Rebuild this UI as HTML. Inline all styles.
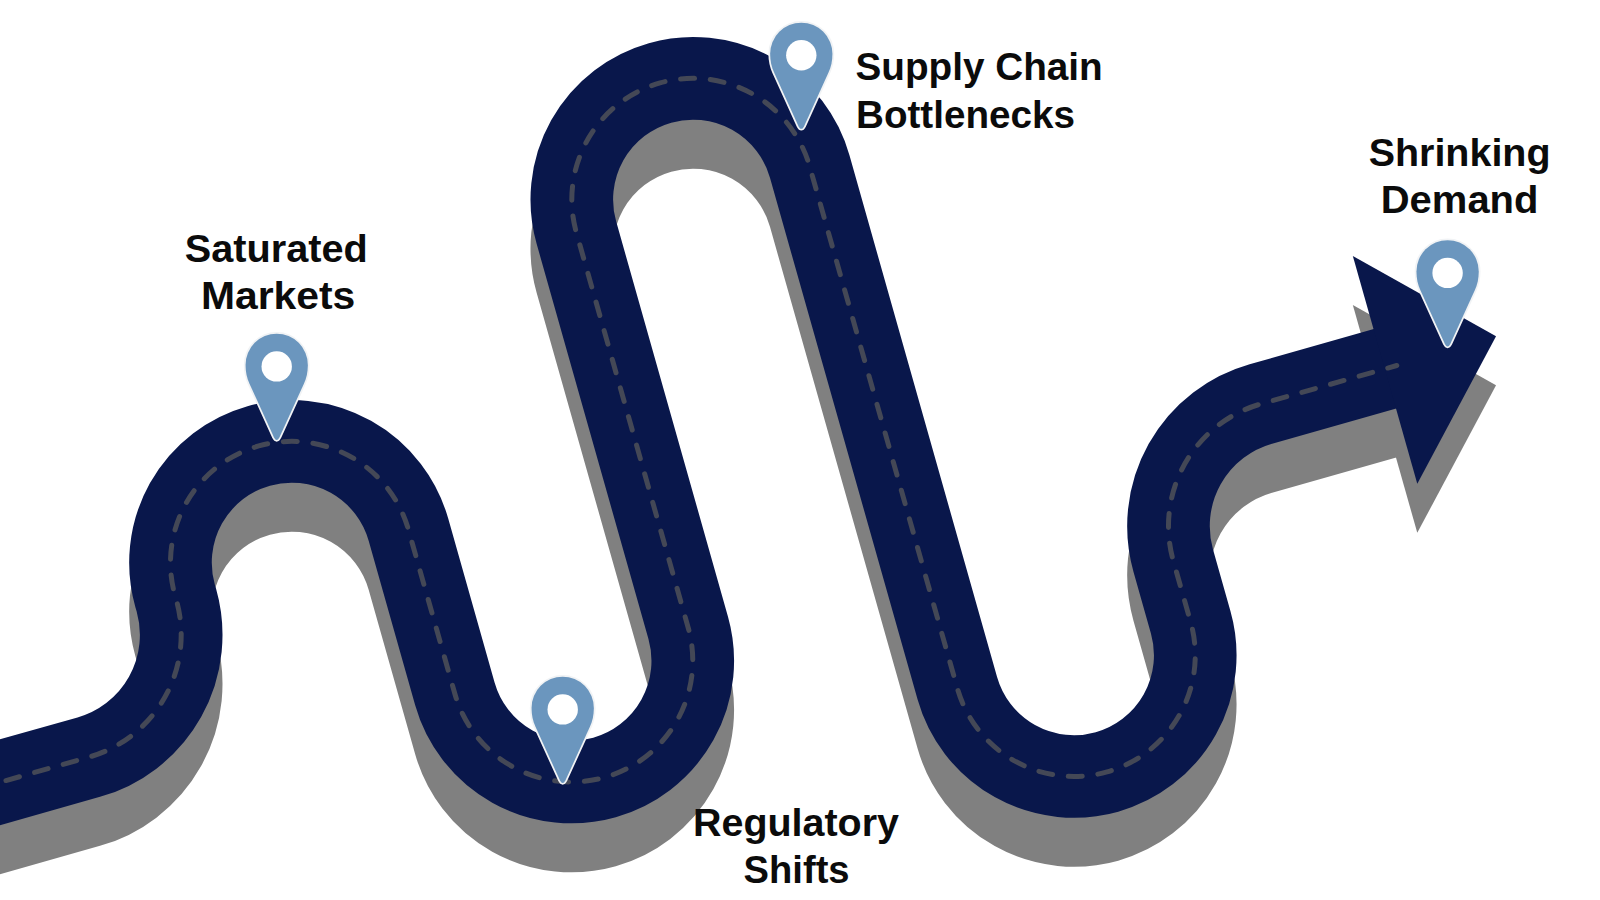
<!DOCTYPE html>
<html lang="en"><head><meta charset="utf-8"><title>Roadmap of Challenges</title>
<style>
html,body{margin:0;padding:0;background:#fff;}
body{width:1600px;height:900px;overflow:hidden;}
svg{display:block}
text{font-family:"Liberation Sans",sans-serif;font-weight:700;font-size:38px;fill:#0b0b0b}
</style></head><body>
<svg width="1600" height="900" viewBox="0 0 1600 900">
<rect width="1600" height="900" fill="#fff"/>
<g transform="translate(0,49)"><g transform="rotate(-15.8)">
<path d="M-260,752.7 L-120.73,752.7 A127,127 0 0 0 6.27,625.7 L6.27,620.8 A121.25,121.25 0 0 1 248.77,620.8 L248.77,791.4 A121.25,121.25 0 0 0 491.27,791.4 L491.27,380.75 A121.25,121.25 0 0 1 733.77,380.75 L733.77,922.9 A121.25,121.25 0 0 0 976.27,922.9 L976.27,859.0 A127,127 0 0 1 1103.27,732.0 L1235.0,732.0" fill="none" stroke="#808080" stroke-width="82.6"/>
<polygon points="1232.0,614.75 1348.0,730.8 1232.0,851.45" fill="#808080"/>
</g></g>
<g transform="rotate(-15.8)">
<path d="M-260,752.7 L-120.73,752.7 A127,127 0 0 0 6.27,625.7 L6.27,620.8 A121.25,121.25 0 0 1 248.77,620.8 L248.77,791.4 A121.25,121.25 0 0 0 491.27,791.4 L491.27,380.75 A121.25,121.25 0 0 1 733.77,380.75 L733.77,922.9 A121.25,121.25 0 0 0 976.27,922.9 L976.27,859.0 A127,127 0 0 1 1103.27,732.0 L1235.0,732.0" fill="none" stroke="#09174b" stroke-width="82.6"/>
<polygon points="1232.0,614.75 1348.0,730.8 1232.0,851.45" fill="#09174b"/>
<path d="M-260,752.7 L-120.73,752.7 A127,127 0 0 0 6.27,625.7 L6.27,620.8 A121.25,121.25 0 0 1 248.77,620.8 L248.77,791.4 A121.25,121.25 0 0 0 491.27,791.4 L491.27,380.75 A121.25,121.25 0 0 1 733.77,380.75 L733.77,922.9 A121.25,121.25 0 0 0 976.27,922.9 L976.27,859.0 A127,127 0 0 1 1103.27,732.0 L1244.5,732.0" fill="none" stroke="#444856" stroke-width="5" stroke-dasharray="14 15.75" stroke-dashoffset="6.3" stroke-linecap="round"/>
</g>
<g transform="translate(276.7,441.5)"><path d="M0,-1.6 C-1.2,-1.6 -2,-2.6 -2.8,-4.2 L-27.2,-57.8 C-29.8,-63.6 -31.15,-69.5 -31.15,-76.6 A31.15,31.15 0 0 1 31.15,-76.6 C31.15,-69.5 29.8,-63.6 27.2,-57.8 L2.8,-4.2 C2,-2.6 1.2,-1.6 0,-1.6 Z" fill="#6b96be" stroke="#f1f3f5" stroke-width="3.5" stroke-linejoin="round" paint-order="stroke fill"/><circle cx="0" cy="-75.1" r="15.2" fill="#fff"/></g>
<g transform="translate(562.7,784.5)"><path d="M0,-1.6 C-1.2,-1.6 -2,-2.6 -2.8,-4.2 L-27.2,-57.8 C-29.8,-63.6 -31.15,-69.5 -31.15,-76.6 A31.15,31.15 0 0 1 31.15,-76.6 C31.15,-69.5 29.8,-63.6 27.2,-57.8 L2.8,-4.2 C2,-2.6 1.2,-1.6 0,-1.6 Z" fill="#6b96be" stroke="#f1f3f5" stroke-width="3.5" stroke-linejoin="round" paint-order="stroke fill"/><circle cx="0" cy="-75.1" r="15.2" fill="#fff"/></g>
<g transform="translate(801.3,130.4)"><path d="M0,-1.6 C-1.2,-1.6 -2,-2.6 -2.8,-4.2 L-27.2,-57.8 C-29.8,-63.6 -31.15,-69.5 -31.15,-76.6 A31.15,31.15 0 0 1 31.15,-76.6 C31.15,-69.5 29.8,-63.6 27.2,-57.8 L2.8,-4.2 C2,-2.6 1.2,-1.6 0,-1.6 Z" fill="#6b96be" stroke="#f1f3f5" stroke-width="3.5" stroke-linejoin="round" paint-order="stroke fill"/><circle cx="0" cy="-75.1" r="15.2" fill="#fff"/></g>
<g transform="translate(1447.6,348)"><path d="M0,-1.6 C-1.2,-1.6 -2,-2.6 -2.8,-4.2 L-27.2,-57.8 C-29.8,-63.6 -31.15,-69.5 -31.15,-76.6 A31.15,31.15 0 0 1 31.15,-76.6 C31.15,-69.5 29.8,-63.6 27.2,-57.8 L2.8,-4.2 C2,-2.6 1.2,-1.6 0,-1.6 Z" fill="#6b96be" stroke="#f1f3f5" stroke-width="3.5" stroke-linejoin="round" paint-order="stroke fill"/><circle cx="0" cy="-75.1" r="15.2" fill="#fff"/></g>
<g>
<text x="276.3" y="261.8" text-anchor="middle" textLength="182.9" lengthAdjust="spacingAndGlyphs">Saturated</text>
<text x="278.1" y="309" text-anchor="middle" textLength="154.4" lengthAdjust="spacingAndGlyphs">Markets</text>
<text x="855.5" y="80.2" text-anchor="start" textLength="247.2" lengthAdjust="spacingAndGlyphs">Supply Chain</text>
<text x="856" y="127.5" text-anchor="start" textLength="218.9" lengthAdjust="spacingAndGlyphs">Bottlenecks</text>
<text x="796" y="835.7" text-anchor="middle" textLength="206" lengthAdjust="spacingAndGlyphs">Regulatory</text>
<text x="796.6" y="883.2" text-anchor="middle" textLength="106" lengthAdjust="spacingAndGlyphs">Shifts</text>
<text x="1459.6" y="165.9" text-anchor="middle" textLength="181.9" lengthAdjust="spacingAndGlyphs">Shrinking</text>
<text x="1459.6" y="213.3" text-anchor="middle" textLength="157.7" lengthAdjust="spacingAndGlyphs">Demand</text>
</g>
</svg>
</body></html>
